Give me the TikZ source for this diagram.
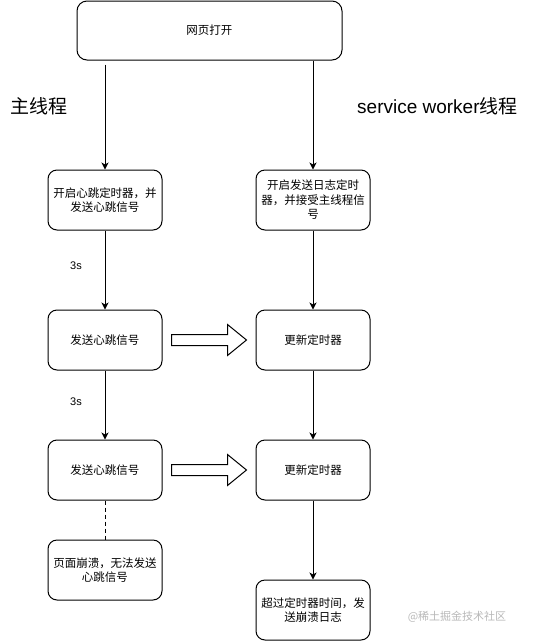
\documentclass[tikz,border=0pt]{standalone}
\usepackage{fontspec}
\setmainfont{Liberation Sans}
\newfontfamily\cjk{Noto Sans CJK SC}
\usetikzlibrary{arrows.meta,calc}
\tikzset{
  box/.style={draw, rounded corners=9pt, line width=1pt, minimum width=114pt, minimum height=60pt,
    align=center, inner sep=2pt, font=\cjk\fontsize{11.5}{14.5}\selectfont, text width=108pt},
  flow/.style={draw, line width=1pt, -{Stealth[length=7pt,width=7pt,inset=2pt]}},
  lbl/.style={font=\fontsize{11}{13}\selectfont},
  big/.style={font=\fontsize{19}{22}\selectfont, inner sep=0pt},
  blockarrow/.style={draw, line width=1pt, fill=white, line join=miter}
}
\begin{document}
\begin{tikzpicture}[x=1pt,y=-1pt]
\useasboundingbox (0,0) rectangle (551,641);
\node[box, minimum width=265pt, minimum height=59pt, text width=250pt, rounded corners=10pt] (top) at (209.5,30.5) {网页打开};
\node[big, anchor=west] (main) at (10,106) {\cjk 主线程};
\node[big, anchor=west] (sw) at (357,106) {service worker{\cjk 线程}};

\node[box] (L1) at (105,200) {开启心跳定时器，并\\发送心跳信号};
\node[box] (R1) at (313,200) {开启发送日志定时\\器，并接受主线程信\\号};
\node[box] (L2) at (105,340) {发送心跳信号};
\node[box] (R2) at (313,340) {更新定时器};
\node[box] (L3) at (105,470) {发送心跳信号};
\node[box] (R3) at (313,470) {更新定时器};
\node[box] (L4) at (105,570) {页面崩溃，无法发送\\心跳信号};
\node[box] (R4) at (313,610) {超过定时器时间，发\\送崩溃日志};

\draw[flow] ($(L1 |- top.south)+(0,4)$) -- (L1.north);
\draw[flow] (R1 |- top.south) -- (R1.north);
\draw[flow] (L1.south) -- node[lbl, pos=0.45, xshift=-29pt] (t1) {3s} (L2.north);
\draw[flow] (R1.south) -- (R2.north);
\draw[flow] (L2.south) -- node[lbl, pos=0.45, xshift=-29pt] (t2) {3s} (L3.north);
\draw[flow] (R2.south) -- (R3.north);
\draw[flow] (R3.south) -- (R4.north);
\draw[line width=1pt, dash pattern=on 4pt off 3pt] (L3.south) -- (L4.north);

\foreach \a/\b in {L2/R2, L3/R3} {
  \draw[blockarrow] ($(\a.east)+(9,-5.5)$) -- ($(\b.west)+(-28,-5.5)$) -- ($(\b.west)+(-28,-15.5)$)
    -- ($(\b.west)+(-9,0)$) -- ($(\b.west)+(-28,15.5)$) -- ($(\b.west)+(-28,5.5)$)
    -- ($(\a.east)+(9,5.5)$) -- cycle;
}

\node[font=\cjk\fontsize{11}{13}\selectfont, text=black!28, inner sep=0pt] (wm) at (457,617) {@稀土掘金技术社区};
\end{tikzpicture}
\end{document}
